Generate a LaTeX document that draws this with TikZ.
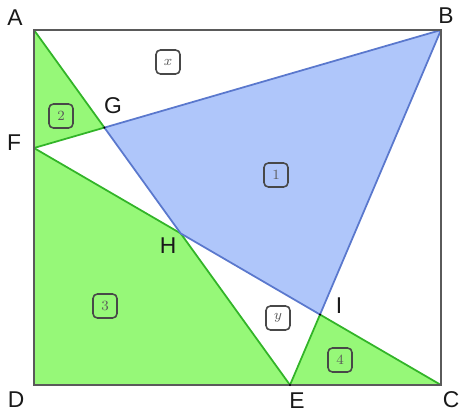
\documentclass[tikz,border=0pt]{standalone}
\usepackage{fontspec}
\setmainfont{Liberation Sans}
\definecolor{partgreen}{RGB}{150,248,120}
\definecolor{edgegreen}{RGB}{50,180,40}
\definecolor{partblue}{RGB}{175,198,250}
\definecolor{edgeblue}{RGB}{90,120,205}
\definecolor{frame}{RGB}{90,90,90}
\begin{document}
\begin{tikzpicture}[x=0.02cm, y=-0.02cm,
  greenpart/.style={fill=partgreen, draw=edgegreen, line width=1pt, line join=round},
  bluepart/.style={fill=partblue, draw=edgeblue, line width=1pt, line join=round},
  tag/.style={draw=frame!80!black, rounded corners=2.5pt, line width=0.9pt, minimum size=0.48cm, inner sep=0pt, font=\footnotesize, text=frame},
  pt/.style={font=\fontsize{13}{15}\selectfont, text=black!90}]
\useasboundingbox (0,0) rectangle (461,412);
\coordinate (A) at (34,30);
\coordinate (B) at (441,30);
\coordinate (C) at (441,385);
\coordinate (D) at (34,385);
\coordinate (F) at (34,148);
\coordinate (E) at (290,385);
\coordinate (G) at (intersection of A--E and F--B);
\coordinate (H) at (intersection of A--E and F--C);
\coordinate (I) at (intersection of B--E and F--C);
% shaded parts
\draw[greenpart] (A) -- (G) -- (F) -- cycle;
\draw[greenpart] (F) -- (H) -- (E) -- (D) -- cycle;
\draw[greenpart] (E) -- (I) -- (C) -- cycle;
\draw[bluepart] (G) -- (B) -- (I) -- (H) -- cycle;
\draw[frame, line width=1pt] (A) rectangle (C);
\fill (G) circle (1.2);
\fill (I) circle (1.2);
\fill (E) circle (1.2);
% point names
\node[pt] (lA) at (15,18) {A};
\node[pt] (lB) at (446,16) {B};
\node[pt] (lC) at (451,400) {C};
\node[pt] (lD) at (16,400) {D};
\node[pt] (lE) at (297,401) {E};
\node[pt] (lF) at (14,143) {F};
\node[pt] (lG) at (113,106) {G};
\node[pt] (lH) at (168,246) {H};
\node[pt] (lI) at (339,306) {I};
% area tags
\node[tag] (tx) at (168,62) {$x$};
\node[tag] (t2) at (61,116) {$2$};
\node[tag] (t1) at (276,175) {$1$};
\node[tag] (t3) at (105,306) {$3$};
\node[tag] (ty) at (278,318) {$y$};
\node[tag] (t4) at (340,360) {$4$};
\end{tikzpicture}
\end{document}
